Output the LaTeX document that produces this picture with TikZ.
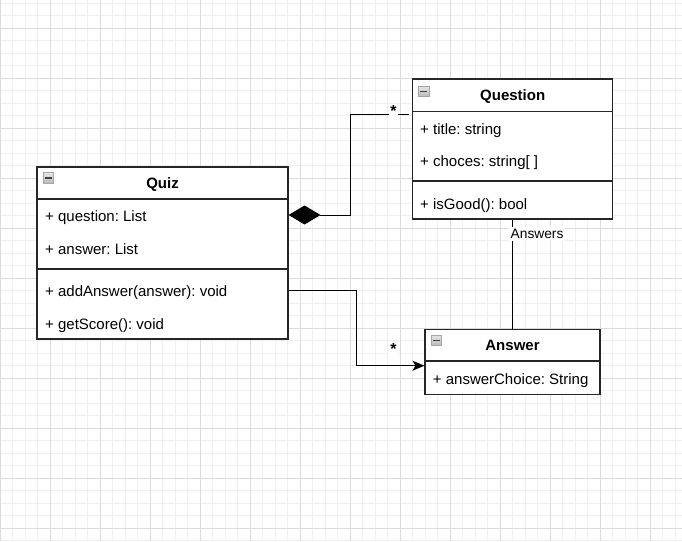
\documentclass[tikz,border=0pt]{standalone}
\usepackage{fontspec}
\setmainfont{Liberation Sans}
\usetikzlibrary{arrows.meta}
\frenchspacing
\tikzset{cls/.style = {draw=black!85, line width=1.1pt, fill=white, inner sep=0pt},
    ttl/.style = {anchor=base, inner sep=0pt, font=\fontsize{15}{18}\selectfont\bfseries},
    att/.style = {anchor=base west, inner sep=0pt, font=\fontsize{15}{18}\selectfont},
    ico/.style = {draw=gray!70, line width=0.8pt, top color=gray!20, bottom color=gray!55, minimum size=10.5pt, inner sep=0pt},
    mul/.style = {anchor=base, fill=white, inner sep=1.2pt, font=\fontsize{16}{18}\selectfont\bfseries},
    lbl/.style = {anchor=west, fill=white, inner sep=2pt, font=\fontsize{13.75}{16}\selectfont},
    sep/.style = {draw=black!85, line width=1.1pt},
    edge/.style = {draw=black, line width=1pt},
    minor/.style = {draw=black!6, line width=0.7pt},
    major/.style = {draw=black!14, line width=0.7pt}}

\begin{document}
\begin{tikzpicture}[x=1pt, y=-1pt]
        \useasboundingbox (0,0) rectangle (682,541);
        \fill[white] (0,0) rectangle (682,541);
        % grid
        \foreach \i in {0,...,54} \draw[minor] (\i*12.5,0) -- (\i*12.5,541);
        \foreach \i in {0,...,43} \draw[minor] (0,3.3+\i*12.5) -- (682,3.3+\i*12.5);
        \foreach \i in {0,...,13} \draw[major] (\i*50,0) -- (\i*50,541);
        \foreach \i in {0,...,10} \draw[major] (0,28.3+\i*50) -- (682,28.3+\i*50);

        % classes
        \node[cls, minimum width=251pt, minimum height=172pt] (quiz) at (162.5,253) {};
        \node[cls, minimum width=200pt, minimum height=140pt] (question) at (512.7,149) {};
        \node[cls, minimum width=175pt, minimum height=64.7pt] (answer) at (512.5,361.7) {};

        \foreach \n/\y in {quiz/199, quiz/269, question/111.7, question/181, answer/361}
            \draw[sep] (\n.west |- 0,\y) -- (\n.east |- 0,\y);

        \foreach \x/\y in {48.5/178, 423.8/91.3, 436.2/340.3} {
            \node[ico] at (\x,\y) {};
            \draw[line width=1.6pt, black!75] (\x-3.6,\y) -- (\x+3.6,\y);
        }

        \node[ttl] (quizt) at (162.5,188.3) {Quiz};
        \node[att] (qzq) at (45,221.7) {+ question: List};
        \node[att] (qza) at (45,254.3) {+ answer: List};
        \node[att] (qzadd) at (45,296) {+ addAnswer(answer): void};
        \node[att] (qzs) at (45,329) {+ getScore(): void};

        \node[ttl] (questiont) at (512.7,100.7) {Question};
        \node[att] (qnt) at (420,134.3) {+ title: string};
        \node[att] (qnc) at (420,166) {+ choces: string[ ]};
        \node[att] (qng) at (420,209.3) {+ isGood(): bool};

        \node[ttl] (answert) at (512.5,350) {Answer};
        \node[att] (ansc) at (432.7,384) {+ answerChoice: String};

        % connectors
        \coordinate (k1) at (350,114);
        \coordinate (k2) at (356.7,365.7);
        \draw[edge, {Diamond[length=32pt,width=19pt]}-, shorten >=3pt] (quiz.east |- 0,215) -| (k1) -- (question.west |- k1);
        \draw[edge, -{Stealth[length=12pt,width=10pt,inset=3pt]}] (quiz.east |- 0,290) -| (k2) -- (answer.west |- k2);
        \draw[edge] (question.south) -- (question.south |- answer.north);

        \node[mul] (m1) at (393.5,116) {*};
        \node[mul] (m2) at (393.5,354.5) {*};
        \node[lbl] (lab) at (508.5,234) {Answers};
    \end{tikzpicture}
\end{document}
